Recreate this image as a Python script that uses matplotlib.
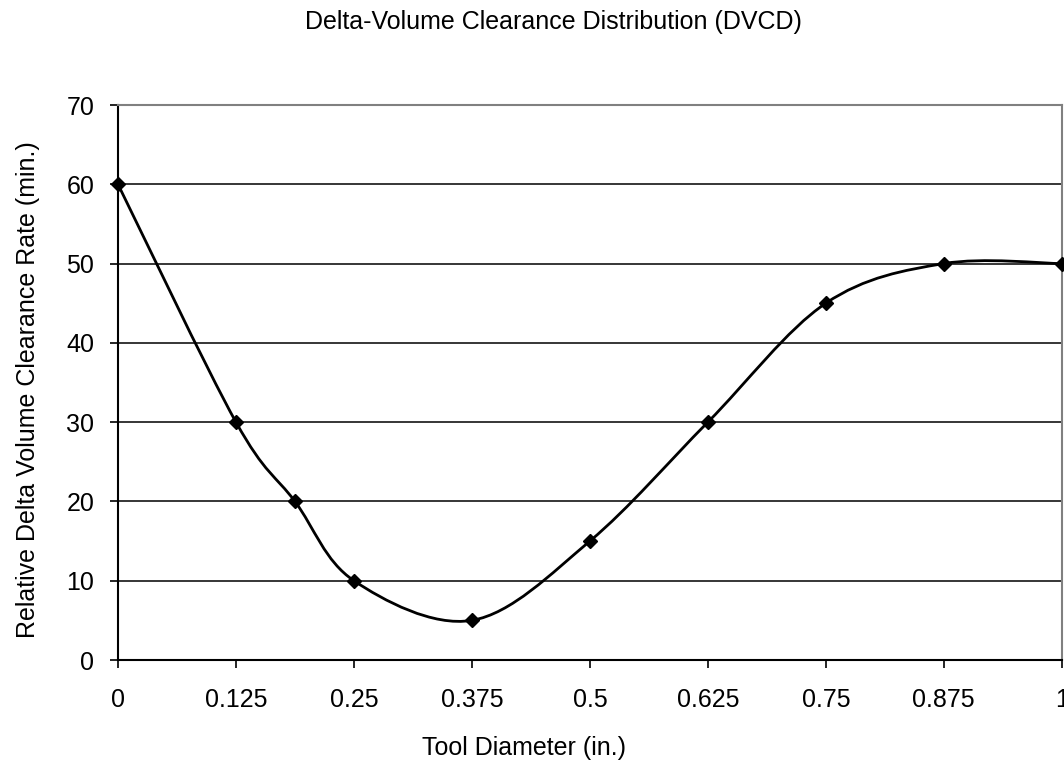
import numpy as np
import matplotlib
matplotlib.use('Agg')
import matplotlib.pyplot as plt
from matplotlib.path import Path
from matplotlib.patches import PathPatch

plt.rcParams['font.family'] = ['Liberation Sans', 'DejaVu Sans']

# dados
diam = [0, 0.125, 0.1875, 0.25, 0.375, 0.5, 0.625, 0.75, 0.875, 1]
rate = [60, 30, 20, 10, 5, 15, 30, 45, 50, 50]
xticks = [0, 0.125, 0.25, 0.375, 0.5, 0.625, 0.75, 0.875, 1]
xlabels = ['0', '0.125', '0.25', '0.375', '0.5', '0.625', '0.75', '0.875', '1']
yticks = [0, 10, 20, 30, 40, 50, 60, 70]

def smooth_path(x, y):
    # curva suavizada estilo Excel (bezier catmull-rom)
    p = np.column_stack([x, y]).astype(float)
    n = len(p)
    verts = [p[0]]
    codes = [Path.MOVETO]
    for i in range(n - 1):
        p0 = p[i - 1] if i > 0 else p[i]
        p1 = p[i]
        p2 = p[i + 1]
        p3 = p[i + 2] if i + 2 < n else p[i + 1]
        c1 = p1 + (p2 - p0) / 6
        c2 = p2 - (p3 - p1) / 6
        verts += [c1, c2, p2]
        codes += [Path.CURVE4] * 3
    return Path(verts, codes)

fig = plt.figure(figsize=(10.64, 7.67), dpi=100)
ax = fig.add_axes([0.1109, 0.1395, 0.887, 0.7236])

for v in yticks[1:-1]:
    ax.axhline(v, color='black', lw=1.1, zorder=1)

ax.add_patch(PathPatch(smooth_path(diam, rate), fill=False, color='black', lw=2, zorder=3))
ax.plot(diam, rate, ls='none', marker='D', ms=7, color='black', zorder=4, clip_on=False)

ax.set_xlim(0, 1)
ax.set_ylim(0, 70)
ax.set_xticks(xticks)
ax.set_xticklabels(xlabels)
ax.set_yticks(yticks)
ax.tick_params(axis='both', direction='out', length=6, width=1.2, labelsize=18, color='black')
ax.tick_params(axis='x', pad=14)
ax.tick_params(axis='y', pad=11)

ax.spines['left'].set_color('black')
ax.spines['bottom'].set_color('black')
ax.spines['left'].set_linewidth(1.5)
ax.spines['bottom'].set_linewidth(1.5)
ax.spines['top'].set_color('#808080')
ax.spines['right'].set_color('#808080')
ax.spines['top'].set_linewidth(1.5)
ax.spines['right'].set_linewidth(1.5)

fig.text(524 / 1064, 1 - 748 / 767, 'Tool Diameter (in.)', fontsize=18,
         ha='center', va='center')
fig.text(28 / 1064, 1 - 390 / 767, 'Relative Delta Volume Clearance Rate (min.)',
         fontsize=18, ha='center', va='center', rotation=90)
fig.text(553 / 1064, 1 - 22 / 767, 'Delta-Volume Clearance Distribution (DVCD)',
         fontsize=18, ha='center', va='center')

fig.savefig('out.png', dpi=100)
